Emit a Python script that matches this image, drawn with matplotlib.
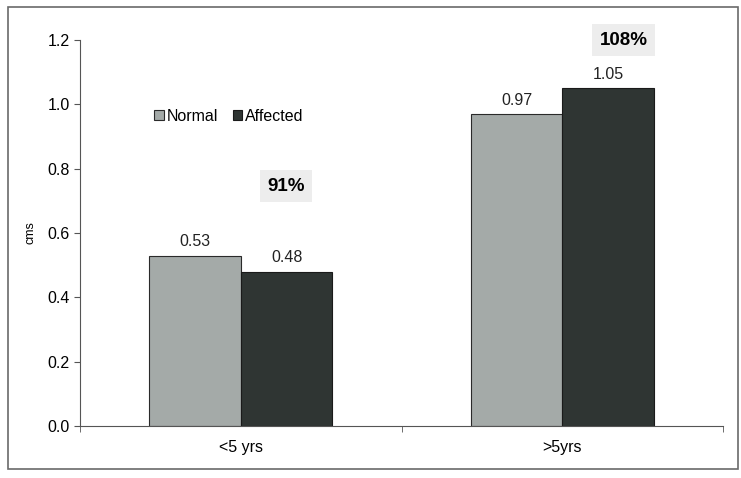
import numpy as np
import matplotlib.pyplot as plt
from matplotlib.patches import Rectangle

# Datos
grupos = ['<5 yrs', '>5yrs']
normal = [0.53, 0.97]
afectado = [0.48, 1.05]
porcentajes = ['91%', '108%']

plt.rcParams['font.family'] = ['Liberation Sans', 'DejaVu Sans']

fig = plt.figure(figsize=(7.41, 4.78), dpi=100)
ax = fig.add_axes([0.108, 0.109, 0.868, 0.807])

# Marco exterior
fig.patches.append(Rectangle((8 / 741, 1 - 469 / 478), 730 / 741, 462 / 478,
                             transform=fig.transFigure, fill=False,
                             edgecolor='#6a6a6a', linewidth=1.2))

x = np.arange(len(grupos))
ancho = 0.285
b1 = ax.bar(x - ancho / 2, normal, ancho, color='#a4aaa8', edgecolor='#2a2a2a',
            linewidth=0.8, label='Normal')
b2 = ax.bar(x + ancho / 2, afectado, ancho, color='#2f3533', edgecolor='#1a1a1a',
            linewidth=0.8, label='Affected')

for barras in (b1, b2):
    for b in barras:
        ax.text(b.get_x() + b.get_width() / 2, b.get_height() + 0.02,
                f'{b.get_height():.2f}', ha='center', va='bottom', fontsize=11.5,
                color='#222222')

# Porcentajes (sobre cada grupo)
pos_pct = [(x[0] + 0.14, 0.745), (x[1] + 0.19, 1.2)]
for (px, py), txt in zip(pos_pct, porcentajes):
    ax.text(px, py, txt, ha='center', va='center', fontsize=13.5, fontweight='bold',
            bbox=dict(boxstyle='square,pad=0.4', facecolor='#ededed', edgecolor='none'))

ax.set_xlim(-0.5, 1.5)
ax.set_ylim(0, 1.2)
ax.set_yticks(np.arange(0, 1.21, 0.2))
ax.set_yticklabels([f'{v:.1f}' for v in np.arange(0, 1.21, 0.2)], fontsize=11.5)
ax.set_xticks(x)
ax.set_xticklabels(grupos, fontsize=11.5)
ax.set_xticks([-0.5, 0.5, 1.5], minor=True)
ax.tick_params(axis='x', which='major', length=0, pad=10)
ax.tick_params(axis='x', which='minor', length=4, direction='out', color='#555555')
ax.tick_params(axis='y', length=4, direction='out', color='#555555')
ax.set_ylabel('cms', fontsize=9, labelpad=8)

for s in ('top', 'right'):
    ax.spines[s].set_visible(False)
for s in ('left', 'bottom'):
    ax.spines[s].set_color('#555555')

ax.legend(loc='center left', bbox_to_anchor=(0.115, 0.802), ncol=2, frameon=False,
          fontsize=11.5, handlelength=0.6, handleheight=0.6, handletextpad=0.2,
          columnspacing=0.9, borderaxespad=0, borderpad=0)

fig.savefig('out.png', dpi=100)
